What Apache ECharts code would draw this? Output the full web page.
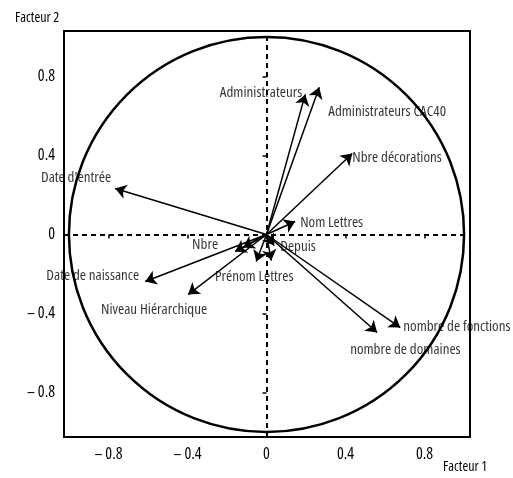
<!DOCTYPE html>
<html>
<head>
<meta charset="utf-8">
<script src="https://cdn.jsdelivr.net/npm/echarts@6/dist/echarts.min.js"></script>
<style>
    html, body { margin: 0; padding: 0; background: #fff; }
    #chart_circle { width: 513px; height: 478px; }
</style>
</head>
<body>
<div id="chart_circle"></div>
<script>
// variables of the correlation circle (coordinates on factor 1 / factor 2)
var variables = ['Administrateurs', 'Administrateurs CAC40', 'Nbre décorations', 'Date d\'entrée',
    'Date de naissance', 'Niveau Hiérarchique', 'Nbre', '', 'Prénom Lettres', ' ', 'Depuis',
    'Nom Lettres', 'nombre de fonctions', 'nombre de domaines'];
var factor1 = [0.196, 0.267, 0.434, -0.766, -0.614, -0.397, -0.159, -0.118, -0.052, 0.024, 0.039, 0.145, 0.677, 0.560];
var factor2 = [0.709, 0.745, 0.410, 0.233, -0.238, -0.304, -0.086, -0.066, -0.137, -0.132, -0.056, 0.066, -0.471, -0.496];
var tickValues = [-0.8, -0.4, 0, 0.4, 0.8];
var circleRadius = 1;

// condensed face, close to the original's narrow type
var FONT = '"Open Sans", sans-serif';
var STRETCH = '500 condensed';

// where each label sits relative to its arrow tip
var labelLayout = {
    'Administrateurs': ['right', -3, -2],
    'Administrateurs CAC40': ['left', 9, 24],
    'Nbre décorations': ['left', 0, 4],
    'Date d\'entrée': ['right', -4, -11],
    'Date de naissance': ['right', -6, -6],
    'Niveau Hiérarchique': ['center', -34, 15],
    'Nbre': ['right', -17, -7],
    'Prénom Lettres': ['center', -2, 15],
    'Depuis': ['left', 6, 1],
    'Nom Lettres': ['left', 5, 1],
    'nombre de fonctions': ['left', 3, -1],
    'nombre de domaines': ['left', -27, 17]
};

function tickFormat(v) {
    if (v < 0) return '\u2013 ' + Math.abs(v);
    return '' + v;
}

var chart = echarts.init(document.getElementById('chart_circle'));

var arrows = [];
var tips = [];
for (var i = 0; i < variables.length; i++) {
    arrows.push({ coords: [[0, 0], [factor1[i], factor2[i]]] });
    var lay = labelLayout[variables[i]];
    tips.push({
        value: [factor1[i], factor2[i]],
        name: variables[i],
        label: lay ? {
            show: true,
            align: lay[0],
            offset: [lay[1], lay[2]]
        } : { show: false }
    });
}

function valueAxis(main) {
    return {
        type: 'value',
        min: -1.025,
        max: 1.03,
        axisLine: { show: false },
        splitLine: { show: false },
        axisTick: {
            show: true,
            customValues: tickValues,
            inside: !main,
            length: 4,
            lineStyle: { color: '#000', width: 1.5 }
        },
        axisLabel: {
            show: main,
            customValues: tickValues,
            formatter: tickFormat,
            color: '#000',
            fontFamily: FONT,
            fontWeight: STRETCH,
            fontSize: 16,
            margin: 9
        }
    };
}

var option = {
    backgroundColor: '#fff',
    animation: false,
    title: [
        { text: 'Facteur 2', left: 10, top: 6, textStyle: { color: '#000', fontFamily: FONT, fontSize: 14, fontWeight: STRETCH } },
        { text: 'Facteur 1', left: 438, top: 455, textStyle: { color: '#000', fontFamily: FONT, fontSize: 14, fontWeight: STRETCH } }
    ],
    grid: {
        left: 64, top: 31, right: 43, bottom: 41,
        show: true,
        borderColor: '#000',
        borderWidth: 2
    },
    xAxis: [valueAxis(true), valueAxis(false)],
    yAxis: [valueAxis(true), valueAxis(false)],
    series: [
        {
            type: 'custom',
            coordinateSystem: 'cartesian2d',
            silent: true,
            data: [[0, 0, circleRadius]],
            renderItem: function (params, api) {
                var c = api.coord([api.value(0), api.value(1)]);
                var r = api.size([api.value(2), api.value(2)]);
                return {
                    type: 'circle',
                    shape: { cx: c[0], cy: c[1], r: r[0] },
                    style: { fill: 'none', stroke: '#000', lineWidth: 2.5 }
                };
            }
        },
        {
            type: 'lines',
            coordinateSystem: 'cartesian2d',
            silent: true,
            symbol: ['none', 'arrow'],
            symbolSize: [7, 11],
            lineStyle: { color: '#000', width: 1.5, opacity: 1 },
            data: arrows
        },
        {
            type: 'scatter',
            silent: true,
            symbolSize: 1,
            itemStyle: { color: 'rgba(0,0,0,0)' },
            label: {
                show: true,
                position: 'inside',
                verticalAlign: 'middle',
                formatter: '{b}',
                color: '#000',
                fontFamily: FONT,
                fontWeight: STRETCH,
                fontSize: 15
            },
            markLine: {
                silent: true,
                symbol: 'none',
                label: { show: false },
                lineStyle: { color: '#000', type: [5, 4], width: 2 },
                data: [{ xAxis: 0 }, { yAxis: 0 }]
            },
            data: tips
        }
    ]
};

chart.setOption(option);
</script>
</body>
</html>
